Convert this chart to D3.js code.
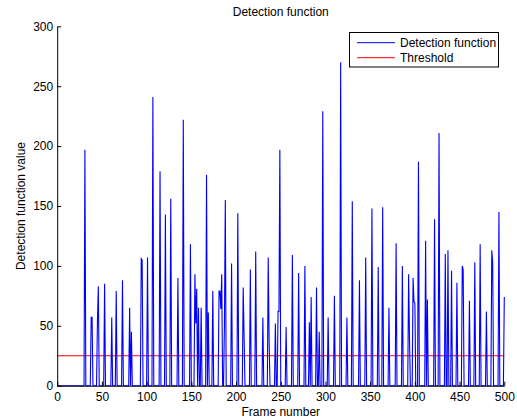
<!DOCTYPE html>
<html>
<head>
<meta charset="utf-8">
<script src="https://cdn.jsdelivr.net/npm/d3@7"></script>
<style>
html,body{margin:0;padding:0;background:#fff;}
svg{display:block;font-family:"Liberation Sans",Arial,Helvetica,sans-serif;}
</style>
</head>
<body>
<svg id="chart" width="517" height="418"></svg>
<script>
// ---- data ----
const spikeFrames = [31,38,39,45,46,53,61,66,73,81,83,94,95,101,107,115,121,127,135,141,149,154,155,156,158,161,167,169,174,181,182,183,184,187,188,195,202,208,209,216,222,230,236,237,244,247,248,249,256,263,270,277,282,284,290,293,297,303,310,317,324,330,338,345,352,359,364,371,379,386,393,394,398,399,400,404,412,414,422,427,434,437,441,447,453,454,461,467,473,480,486,487,494,500];
const spikeValues = [197,57,57,54,83,85,57,79,88,65,45,106,105,107,241,179,143,156,90,222,118,93,52,81,65,65,176,61,79,79,79,64,93,49,155,102,144,82,41,97,112,57,107,37,52,62,62,197,49,109,94,100,53,74,82,45,229,57,75,270,57,154,88,107,148,99,149,65,119,100,93,38,90,70,69,187,121,72,139,211,110,113,96,86,100,97,71,103,118,62,113,103,145,74];
const thresholdValue = 25;
const frameRange = [0, 500];
const xTicks = [0,50,100,150,200,250,300,350,400,450,500];
const yTicks = [0,50,100,150,200,250,300];
const seriesNames = ["Detection function", "Threshold"];
const seriesColors = ["#0000ff", "#ff0000"];

// ---- build dense series (zero where no spike) ----
const spikeMap = new Map(spikeFrames.map((f,i)=>[f, spikeValues[i]]));
const series = d3.range(frameRange[0], frameRange[1]+1).map(f => ({f, v: spikeMap.has(f) ? spikeMap.get(f) : 0}));

const svg = d3.select("#chart");
const L = 57.2, R = 504.3, T = 26.3, B = 385.7;
const x = d3.scaleLinear().domain([0,500]).range([L,R]);
const y = d3.scaleLinear().domain([0,300]).range([B,T]);

// threshold
svg.append("path")
  .datum(frameRange.map(f=>({f, v: thresholdValue})))
  .attr("fill","none").attr("stroke",seriesColors[1]).attr("stroke-width",1)
  .attr("d", d3.line().x(d=>x(d.f)).y(d=>y(d.v)));

// detection function
svg.append("path")
  .datum(series)
  .attr("fill","none").attr("stroke",seriesColors[0]).attr("stroke-width",1.1)
  .attr("stroke-linejoin","miter")
  .attr("d", d3.line().x(d=>x(d.f)).y(d=>y(d.v)));

// axes
const xAxis = d3.axisBottom(x).tickValues(xTicks).tickSizeInner(-4).tickSizeOuter(0).tickPadding(7);
const yAxis = d3.axisLeft(y).tickValues(yTicks).tickSizeInner(-4).tickSizeOuter(0).tickPadding(4);
const gx = svg.append("g").attr("transform",`translate(0,${B})`).call(xAxis);
const gy = svg.append("g").attr("transform",`translate(${L},0)`).call(yAxis);
[gx,gy].forEach(g=>{
  g.selectAll("path").attr("stroke","#000").attr("stroke-width",1);
  g.selectAll("line").attr("stroke","#000");
  g.selectAll("text").attr("fill","#000").attr("font-size",12)
   .attr("font-family",'"Liberation Sans",Arial,sans-serif');
});

// title and labels
svg.append("text").attr("x",(L+R)/2).attr("y",16).attr("text-anchor","middle")
  .attr("font-size",12).text("Detection function");
svg.append("text").attr("x",(L+R)/2).attr("y",416).attr("text-anchor","middle")
  .attr("font-size",12).text("Frame number");
svg.append("text").attr("transform",`translate(25,${(T+B)/2}) rotate(-90)`)
  .attr("text-anchor","middle").attr("font-size",12).text("Detection function value");

// legend
const lg = svg.append("g");
lg.append("rect").attr("x",349.5).attr("y",32.5).attr("width",149).attr("height",34.5)
  .attr("fill","#fff").attr("stroke","#000").attr("stroke-width",1);
seriesNames.forEach((n,i)=>{
  const yy = 42.7 + i*15;
  lg.append("line").attr("x1",357).attr("x2",395).attr("y1",yy).attr("y2",yy)
    .attr("stroke",seriesColors[i]).attr("stroke-width",1);
  lg.append("text").attr("x",400).attr("y",yy+4.3).attr("font-size",12).text(n);
});
</script>
</body>
</html>
